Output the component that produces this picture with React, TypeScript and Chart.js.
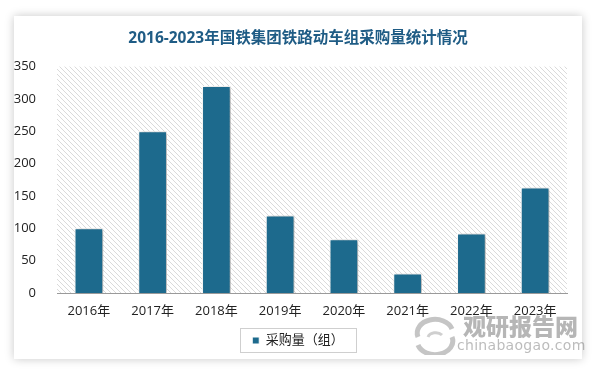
import React, { useEffect, useRef } from "react";
import { Chart, registerables } from "chart.js";

Chart.register(...registerables);

const titleText = "2016-2023年国铁集团铁路动车组采购量统计情况";
const categories = ["2016年", "2017年", "2018年", "2019年", "2020年", "2021年", "2022年", "2023年"];
const purchaseValues = [100, 250, 320, 120, 83, 30, 92, 163];
const seriesLabel = "采购量（组）";
const yMin = 0;
const yMax = 350;
const yStep = 50;

const FONT = "'Open Sans','Noto Sans CJK SC',sans-serif";
const BAR = "#1d6a8d";

function makeHatch(ctx: CanvasRenderingContext2D) {
  const c = document.createElement("canvas");
  c.width = 5;
  c.height = 5;
  const g = c.getContext("2d")!;
  g.fillStyle = "#ffffff";
  g.fillRect(0, 0, 5, 5);
  g.strokeStyle = "#dadada";
  g.lineWidth = 1;
  g.beginPath();
  g.moveTo(-1, -1);
  g.lineTo(6, 6);
  g.moveTo(-1, 4);
  g.lineTo(1, 6);
  g.moveTo(4, -1);
  g.lineTo(6, 1);
  g.stroke();
  return ctx.createPattern(c, "repeat")!;
}

const hatchPlugin = {
  id: "hatchBg",
  beforeDraw(chart: any) {
    const { ctx, chartArea } = chart;
    if (!chartArea) return;
    ctx.save();
    ctx.fillStyle = makeHatch(ctx);
    ctx.fillRect(chartArea.left, chartArea.top, chartArea.right - chartArea.left, chartArea.bottom - chartArea.top);
    ctx.restore();
  },
};

// let the y-axis labels use the left padding strip (avoid clipping)
const widenYPlugin = {
  id: "widenY",
  afterLayout(chart: any) {
    const y = chart.scales.y;
    if (y) {
      y.left = 0;
      y.width = y.right;
    }
  },
};

const shadowPlugin = {
  id: "barShadow",
  beforeDatasetsDraw(chart: any) {
    const ctx = chart.ctx;
    ctx.save();
    ctx.shadowColor = "rgba(0,0,0,0.35)";
    ctx.shadowBlur = 4;
    ctx.shadowOffsetX = 2;
    ctx.shadowOffsetY = 1;
  },
  afterDatasetsDraw(chart: any) {
    chart.ctx.restore();
  },
};

const legendBoxPlugin = {
  id: "legendBox",
  afterDraw(chart: any) {
    const lg = chart.legend;
    if (!lg || !lg.legendHitBoxes || !lg.legendHitBoxes.length) return;
    const hb = lg.legendHitBoxes;
    let l = Infinity, r = -Infinity, t = Infinity, b = -Infinity;
    hb.forEach((h: any) => {
      l = Math.min(l, h.left);
      r = Math.max(r, h.left + h.width);
      t = Math.min(t, h.top);
      b = Math.max(b, h.top + h.height);
    });
    const ctx = chart.ctx;
    ctx.save();
    ctx.strokeStyle = "#cfcfcf";
    ctx.lineWidth = 1;
    ctx.strokeRect(Math.round(l - 12) + 0.5, Math.round(t - 6) + 0.5, Math.round(r - l + 24), Math.round(b - t + 11));
    ctx.restore();
  },
};

export default function App() {
  const ref = useRef<HTMLCanvasElement>(null);

  useEffect(() => {
    const canvas = ref.current!;
    const chart = new Chart(canvas, {
      type: "bar",
      data: {
        labels: categories,
        datasets: [
          {
            label: seriesLabel,
            data: purchaseValues,
            backgroundColor: BAR,
            borderColor: "#ffffff",
            borderWidth: 1,
            barPercentage: 0.45,
            categoryPercentage: 1,
          },
        ],
      },
      options: {
        responsive: false,
        animation: false,
        devicePixelRatio: 1,
        layout: { padding: { left: 15, right: 15, top: 0, bottom: 2 } },
        plugins: {
          title: {
            display: true,
            text: titleText,
            color: "#1f5c85",
            font: { family: FONT, size: 15.5, weight: "bold" },
            padding: { top: 13, bottom: 19 },
          },
          legend: {
            display: true,
            position: "bottom",
            labels: {
              color: "#222",
              font: { family: FONT, size: 13 },
              boxWidth: 7,
              boxHeight: 7,
              padding: 8,
            },
          },
          tooltip: { enabled: false },
        },
        scales: {
          x: {
            grid: { display: false },
            border: { display: true, color: "#9a9a9a", width: 1 },
            ticks: { color: "#222", font: { family: FONT, size: 13 }, padding: 2, maxRotation: 0 },
            afterFit(scale: any) {
              scale.height = 33;
            },
          },
          y: {
            min: yMin,
            max: yMax,
            grid: { display: false },
            border: { display: false },
            ticks: { stepSize: yStep, color: "#222", font: { family: FONT, size: 13 }, padding: 13 },
            afterFit(scale: any) {
              scale.width = 28;
            },
          },
        },
      },
      plugins: [widenYPlugin, hatchPlugin, shadowPlugin, legendBoxPlugin],
    });
    return () => chart.destroy();
  }, []);

  return (
    <div style={{ position: "fixed", left: 0, top: 0, width: 599, height: 370, background: "#ffffff", overflow: "hidden" }}>
      <div
        style={{
          position: "absolute",
          left: 14,
          top: 16,
          width: 568,
          height: 343,
          background: "#ffffff",
          boxShadow: "0 0 9px rgba(0,0,0,0.22)",
        }}
      >
        <canvas ref={ref} width={568} height={343} style={{ display: "block", width: 568, height: 343 }} />
      </div>
      <div style={{ position: "absolute", left: 408, top: 312, width: 170, height: 45, pointerEvents: "none", opacity: 0.5 }}>
        <svg width="50" height="40" style={{ position: "absolute", left: 2, top: 3 }}>
          <path d="M8 22 A17 13 0 0 1 42 14" stroke="#8c8c8c" strokeWidth="5" fill="none" />
          <path d="M42 22 A17 13 0 0 1 8 30" stroke="#8c8c8c" strokeWidth="5" fill="none" />
          <path d="M18 22 A8 6 0 0 1 32 20" stroke="#a0a0a0" strokeWidth="3" fill="none" />
        </svg>
        <div
          style={{
            position: "absolute",
            left: 55,
            top: 0,
            fontFamily: "'Noto Sans CJK SC',sans-serif",
            fontWeight: 900,
            fontSize: 23,
            lineHeight: "26px",
            color: "#6e6e6e",
            letterSpacing: 0,
          }}
        >
          观研报告网
        </div>
        <div
          style={{
            position: "absolute",
            left: 49,
            top: 24,
            fontFamily: "'DejaVu Sans',sans-serif",
            fontSize: 14,
            lineHeight: "18px",
            color: "#7a7a7a",
            letterSpacing: 0.3,
          }}
        >
          chinabaogao.com
        </div>
      </div>
    </div>
  );
}
